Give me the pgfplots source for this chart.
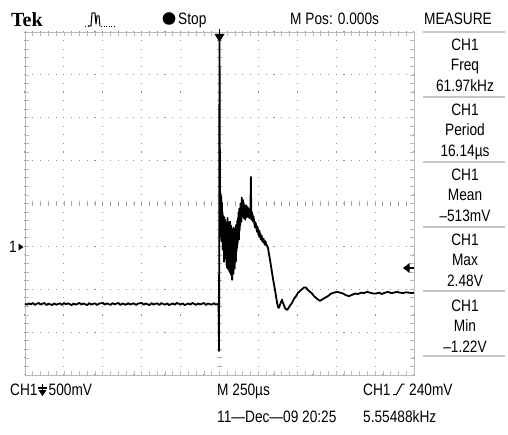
\documentclass[border=0pt]{standalone}
\usepackage{pgfplots}
\pgfplotsset{compat=1.18}
\usepackage{pgfplotstable}
\usepackage{fontspec}
\setmainfont{Liberation Sans}[FakeStretch=0.83]
\newfontfamily\tekfont{Liberation Serif}
\newcommand\scr{\fontsize{16.5pt}{18pt}\selectfont}

% CH1 trace: time in microseconds, voltage in volts (0 V at the ground marker)
\pgfplotstableread{
t V
-1250 -0.668
-1237 -0.680
-1225 -0.664
-1212 -0.676
-1200 -0.660
-1187 -0.682
-1175 -0.670
-1162 -0.660
-1150 -0.678
-1125 -0.660
-1112 -0.684
-1100 -0.668
-1075 -0.684
-1062 -0.664
-1050 -0.680
-1025 -0.664
-1012 -0.682
-1000 -0.660
-987 -0.676
-975 -0.664
-950 -0.684
-937 -0.666
-925 -0.680
-900 -0.660
-887 -0.678
-875 -0.666
-850 -0.684
-837 -0.662
-825 -0.678
-800 -0.664
-787 -0.684
-775 -0.668
-750 -0.660
-737 -0.680
-725 -0.664
-700 -0.682
-687 -0.662
-675 -0.676
-650 -0.660
-637 -0.684
-625 -0.666
-600 -0.680
-587 -0.662
-575 -0.678
-550 -0.664
-537 -0.684
-525 -0.668
-500 -0.660
-487 -0.680
-475 -0.666
-450 -0.684
-437 -0.662
-425 -0.678
-400 -0.664
-387 -0.684
-375 -0.662
-350 -0.680
-337 -0.664
-325 -0.684
-300 -0.666
-287 -0.680
-275 -0.660
-250 -0.678
-237 -0.664
-225 -0.684
-200 -0.666
-187 -0.680
-175 -0.660
-150 -0.682
-137 -0.664
-125 -0.678
-100 -0.660
-87 -0.684
-75 -0.666
-50 -0.680
-37 -0.662
-25 -0.678
-6 -0.670
-3 -1.22
0 2.48
3 0.66
5 0.22
7 0.62
9 0.12
11 0.58
13 0.06
15 0.52
17 0.10
19 0.40
21 -0.04
23 0.36
25 0.00
27 0.30
29 -0.18
31 0.34
33 -0.08
35 0.31
37 -0.14
39 0.26
41 -0.10
43 0.28
45 -0.22
47 0.24
49 -0.25
51 0.33
53 -0.20
55 0.22
57 -0.27
59 0.28
61 -0.12
63 0.22
65 -0.30
67 0.29
69 -0.22
71 0.18
73 -0.33
75 0.24
77 -0.28
79 0.16
81 -0.39
83 0.20
85 -0.26
87 0.13
89 -0.32
91 0.22
93 -0.18
95 0.16
97 -0.26
99 0.20
101 -0.12
103 0.17
105 -0.18
107 0.25
109 -0.06
111 0.22
113 -0.02
115 0.30
117 0.04
119 0.33
121 0.10
123 0.40
125 0.08
127 0.44
129 0.18
131 0.42
133 0.24
135 0.50
137 0.28
139 0.46
141 0.29
143 0.57
145 0.34
147 0.50
149 0.38
151 0.54
153 0.36
155 0.51
157 0.33
159 0.48
161 0.38
163 0.46
165 0.31
167 0.47
169 0.36
171 0.48
173 0.34
175 0.45
177 0.37
179 0.46
181 0.35
183 0.45
185 0.34
187 0.44
189 0.36
191 0.43
193 0.33
195 0.42
197 0.35
199 0.47
202 0.81
204 0.33
206 0.31
208 0.40
210 0.34
212 0.38
215 0.29
218 0.35
222 0.30
225 0.26
228 0.22
231 0.28
235 0.25
238 0.20
241 0.17
244 0.23
247 0.20
250 0.14
254 0.12
257 0.18
260 0.14
263 0.10
267 0.08
270 0.13
273 0.10
276 0.06
280 0.05
283 0.09
286 0.06
289 0.03
292 0.02
296 0.06
299 0.03
302 0.01
305 0.01
312 -0.02
318 -0.09
325 -0.16
331 -0.23
337 -0.30
344 -0.38
350 -0.44
357 -0.51
363 -0.58
370 -0.66
376 -0.705
382 -0.717
389 -0.68
395 -0.65
402 -0.62
408 -0.66
415 -0.69
421 -0.72
427 -0.73
434 -0.74
440 -0.73
453 -0.69
466 -0.66
479 -0.61
492 -0.58
505 -0.54
517 -0.52
530 -0.50
543 -0.48
556 -0.48
569 -0.51
582 -0.53
595 -0.55
607 -0.58
620 -0.60
633 -0.62
646 -0.635
659 -0.62
678 -0.60
697 -0.58
717 -0.55
736 -0.54
755 -0.53
775 -0.54
794 -0.55
813 -0.57
832 -0.58
852 -0.565
871 -0.55
890 -0.555
910 -0.54
929 -0.545
948 -0.53
967 -0.54
987 -0.55
1006 -0.55
1025 -0.54
1044 -0.555
1064 -0.54
1083 -0.53
1102 -0.545
1122 -0.54
1141 -0.53
1160 -0.54
1179 -0.545
1199 -0.535
1218 -0.54
1237 -0.545
1250 -0.54
}\chone

\begin{document}
\begin{tikzpicture}
\useasboundingbox[fill=white] (0pt,0pt) rectangle (508pt,-435pt);

\begin{scope}[x=1pt,y=-1pt]
  % graticule centre lines: short ticks every 0.2 division
  \foreach \k in {0,...,50}
    \draw[gray!65, line width=0.8pt] ({25+\k*7.78},201.2) -- ({25+\k*7.78},206.3);
  \foreach \k in {0,...,40}
    \draw[gray!65, line width=0.8pt] (217,{32+\k*8.575}) -- (222,{32+\k*8.575});
\end{scope}

\begin{axis}[
  at={(25pt,-375pt)}, anchor=south west,
  width=389pt, height=343pt, scale only axis,
  xmin=-1250, xmax=1250, ymin=-1.5, ymax=2.5,
  xtick={-1250,-1000,...,1250}, ytick={-1.5,-1,...,2.5},
  xticklabels={}, yticklabels={},
  minor x tick num=4, minor y tick num=4,
  tick align=inside, major tick length=4pt, minor tick length=4pt,
  tick style={gray!55, line width=0.7pt},
  axis line style={gray!55, line width=0.9pt},
  grid=major,
  major x grid style={draw=gray!85, line width=1.1pt, dash pattern=on 1.1pt off 7.475pt, dash phase=0.55pt},
  major y grid style={draw=gray!85, line width=1.1pt, dash pattern=on 1.1pt off 6.68pt, dash phase=0.55pt},
  clip=false,
]
  \addplot[black, line width=1.8pt, line join=round, mark=none] table[x=t, y=V] {\chone};
\end{axis}

\begin{scope}[x=1pt,y=-1pt]
  % header
  \node[anchor=base west, inner sep=0] at (11,26.5) {\tekfont\bfseries\fontsize{20pt}{22pt}\selectfont Tek};
  \draw[black, line width=1pt, line join=round]
    (88,26) -- (91,26) -- (92,13) -- (95,13) -- (96,24) -- (97,16) -- (99,16) -- (100,26);
  \draw[black, line width=1pt, dash pattern=on 1pt off 1.5pt] (85,26.5) -- (88,26.5);
  \draw[black, line width=1pt, dash pattern=on 1pt off 1.5pt] (101,26.5) -- (114,26.5);
  \fill[black] (169,18.5) circle (6.3);
  \node[anchor=base west, inner sep=0] at (178,24.8) {\scr Stop};
  \node[anchor=base west, inner sep=0] at (290,24.8) {\scr M Pos: 0.000s};
  \node[anchor=base, inner sep=0] at (458,24.8) {\scr MEASURE};

  % measurement panel
  \foreach \y in {32,97,162,227,291,356}
    \draw[gray!45, line width=1.2pt] (423,\y) -- (505,\y);
  \node[anchor=base, inner sep=0] at (465,51) {\scr CH1};
  \node[anchor=base, inner sep=0] at (465,71) {\scr Freq};
  \node[anchor=base, inner sep=0] at (465,92) {\scr 61.97kHz};
  \node[anchor=base, inner sep=0] at (465,116) {\scr CH1};
  \node[anchor=base, inner sep=0] at (465,136) {\scr Period};
  \node[anchor=base, inner sep=0] at (465,157) {\scr 16.14µs};
  \node[anchor=base, inner sep=0] at (465,181) {\scr CH1};
  \node[anchor=base, inner sep=0] at (465,201) {\scr Mean};
  \node[anchor=base, inner sep=0] at (465,222) {\scr –513mV};
  \node[anchor=base, inner sep=0] at (465,246) {\scr CH1};
  \node[anchor=base, inner sep=0] at (465,266) {\scr Max};
  \node[anchor=base, inner sep=0] at (465,287) {\scr 2.48V};
  \node[anchor=base, inner sep=0] at (465,311) {\scr CH1};
  \node[anchor=base, inner sep=0] at (465,331) {\scr Min};
  \node[anchor=base, inner sep=0] at (465,352) {\scr –1.22V};

  % trigger position, trigger level and ground markers
  \draw[black, line width=1.2pt] (219.5,29) -- (219.5,36);
  \fill[black] (214.5,34) -- (224.5,34) -- (219.5,42) -- cycle;
  \fill[black] (403,268) -- (409.5,263) -- (409.5,273) -- cycle;
  \draw[black, line width=1.6pt] (408,268) -- (414,268);
  \node[anchor=base west, inner sep=0] at (9,253) {\scr 1};
  \fill[black] (23.5,247) -- (18.5,243.5) -- (18.5,250.5) -- cycle;

  % footer
  \node[anchor=base west, inner sep=0] at (10,395) {\scr CH1};
  \draw[black, line width=1.1pt] (42.5,383.5) -- (42.5,391);
  \draw[black, line width=1.1pt] (38,388) -- (47,388);
  \fill[black] (38.5,390) -- (46.5,390) -- (42.5,396) -- cycle;
  \node[anchor=base west, inner sep=0] at (48.5,395) {\scr 500mV};
  \node[anchor=base west, inner sep=0] at (217,395) {\scr M 250µs};
  \node[anchor=base west, inner sep=0] at (363,395) {\scr CH1};
  \draw[black, line width=1pt] (393,394.5) -- (396.5,394.5) -- (402,384) -- (404.5,384);
  \node[anchor=base west, inner sep=0] at (409,395) {\scr 240mV};
  \node[anchor=base west, inner sep=0] at (217,422) {\scr 11—Dec—09 20:25};
  \node[anchor=base west, inner sep=0] at (363,422) {\scr 5.55488kHz};
\end{scope}
\end{tikzpicture}
\end{document}
